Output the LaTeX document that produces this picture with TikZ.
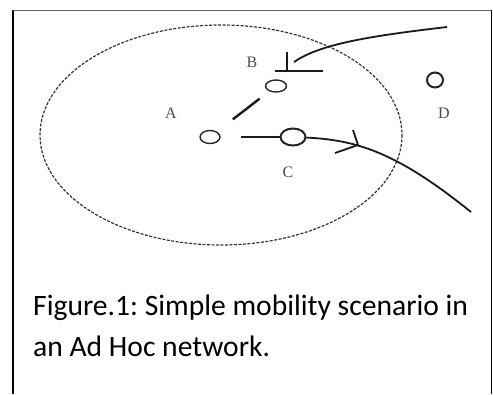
\documentclass[tikz,border=0pt]{standalone}
\usepackage{fontspec}
\setmainfont{Carlito}
\newfontfamily\labelfont{Liberation Serif}
\usetikzlibrary{shapes.geometric}
\frenchspacing

\tikzset{
  host/.style={ellipse, draw=black!85, line width=1.4pt, inner sep=0pt},
  hostlabel/.style={font=\labelfont\fontsize{16}{16}\selectfont, text=black!70},
  track/.style={line width=1.8pt, black!90},
  captionline/.style={anchor=base west, inner sep=0pt, font=\fontsize{29.6}{34}\selectfont}
}

\begin{document}
\begin{tikzpicture}[x=1pt,y=-1pt]
\useasboundingbox (0,0) rectangle (493,394);
% frame
\draw[line width=2.2pt] (13,9.5) -- (13,394);
\draw[black!60, line width=1pt] (13,10) -- (491.5,10);
\draw[line width=1.2pt] (491.5,10) -- (491.5,394);

% range of A
\draw[dashed, dash pattern=on 3pt off 1.5pt, line width=1.2pt, black!80] (221,135) ellipse (181 and 110);

% hosts
\node[host, minimum width=20pt, minimum height=13pt] (a) at (210,137) {};
\node[host, minimum width=21pt, minimum height=12pt] (b) at (276,86) {};
\node[host, minimum width=25pt, minimum height=17pt, line width=2pt] (c) at (293,137) {};
\node[host, minimum width=16pt, minimum height=15pt, line width=2pt] (d) at (435,80) {};

\node[hostlabel] (la) at (171,113) {A};
\node[hostlabel] (lb) at (252,62) {B};
\node[hostlabel] (lc) at (288,172) {C};
\node[hostlabel] (ld) at (444,113) {D};

% link A--B
\draw[track, line width=2.4pt, shorten <=20pt, shorten >=12pt] (a) -- (b);

% B moves in
\coordinate (bfrom) at (447,27);
\coordinate (btip) at (294,62);
\draw[track] (bfrom) .. controls (370,36) and (320,44) .. (btip);
\draw[track, line width=2.4pt] (287,52) -- (287,72);
\draw[track, line width=2.4pt] (275,71) -- (323,71);

% C moves out
\coordinate (cto) at (471,212);
\draw[track] (241,137) -- (c);
\draw[track] (c) .. controls (360,140) and (400,155) .. (cto);
\draw[track] (353,130) -- (358,145) -- (335,153);

% caption
\node[captionline] (cap1) at (33,315) {Figure.1: Simple mobility scenario in};
\node[captionline] (cap2) at (33,356) {an Ad Hoc network.};
\end{tikzpicture}
\end{document}
